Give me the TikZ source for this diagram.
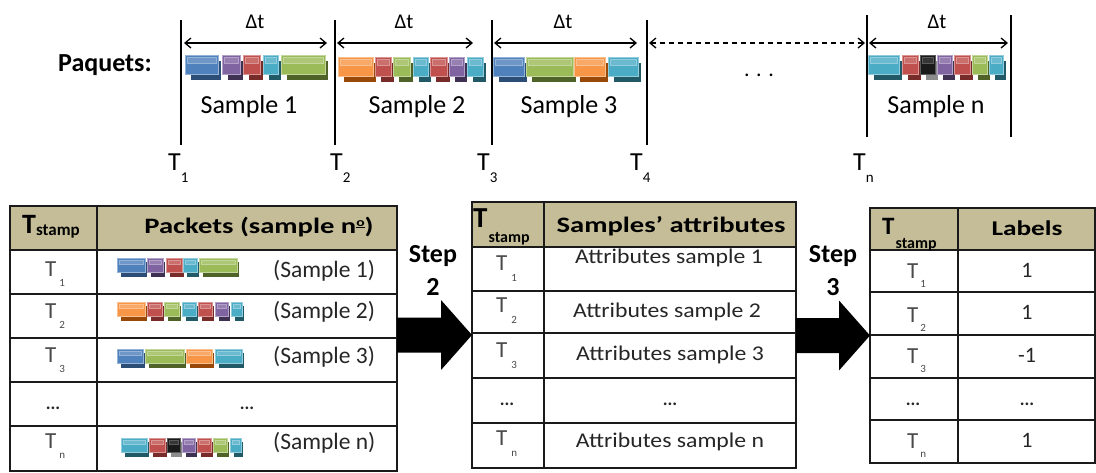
\documentclass[tikz,border=0pt]{standalone}
\usepackage{fontspec}
\setmainfont{Carlito}
\newfontfamily\hdfont[FakeStretch=1.3]{Carlito}
\newfontfamily\attrfont[FakeStretch=1.13]{Carlito}
\usetikzlibrary{arrows.meta,calc}

\definecolor{cblue}{HTML}{4F81BD}   \definecolor{cblueD}{HTML}{2C4D75}   \definecolor{cblueL}{HTML}{95B3D7}
\definecolor{cpurple}{HTML}{8064A2} \definecolor{cpurpleD}{HTML}{3F3151} \definecolor{cpurpleL}{HTML}{B3A2C7}
\definecolor{cred}{HTML}{C0504D}    \definecolor{credD}{HTML}{772C2A}    \definecolor{credL}{HTML}{D99694}
\definecolor{ccyan}{HTML}{4BACC6}   \definecolor{ccyanD}{HTML}{215967}   \definecolor{ccyanL}{HTML}{93CDDD}
\definecolor{cgreen}{HTML}{9BBB59}  \definecolor{cgreenD}{HTML}{4F6228}  \definecolor{cgreenL}{HTML}{C3D69B}
\definecolor{corange}{HTML}{F79646} \definecolor{corangeD}{HTML}{984807} \definecolor{corangeL}{HTML}{FAC090}
\definecolor{cblack}{HTML}{1A1A1A}  \definecolor{cblackD}{HTML}{8C8C8C}  \definecolor{cblackL}{HTML}{5A5A5A}
\definecolor{hdrtan}{HTML}{C4BD97}
\definecolor{lineK}{HTML}{1A1A1A}
\definecolor{txtK}{HTML}{262626}
\definecolor{txtG}{HTML}{4A4A4A}

\newcommand\fs[1]{\fontsize{#1}{#1}\selectfont}
% T with a lowered index: T size, index size, gap, drop, index
\newcommand\Tlab[5]{{\fs{#1}T}\hspace{#3}\raisebox{#4}{\fs{#2}#5}}
% masculine ordinal with its bar
\newcommand\ordo{\raisebox{7pt}{\fs{12}\underline{o}}}
% one packet block: left x, right x, top y, height, colour
\newcommand\pkt[5]{%
  \fill[#5D] ({#1+0.3*#4},{#3+0.3*#4}) rectangle ({#2+0.16*#4},{#3+1.34*#4});
  \filldraw[fill=#5, draw=#5L, line width=0.6pt] (#1,#3) rectangle (#2,{#3+#4});
  \filldraw[fill=#5L, draw=#5L, fill opacity=0.45, line width=0.4pt]
    ({#1+2.2},{#3+2.5}) rectangle ({#2-2.2},{#3+0.45*#4});
}

\begin{document}
\begin{tikzpicture}[x=1pt,y=-1pt,
  tick/.style={line width=1.3pt},
  dtarr/.style={line width=1.3pt,
    {Straight Barb[length=6pt,width=10pt]}-{Straight Barb[length=6pt,width=10pt]}},
  gridline/.style={line width=1.4pt, draw=lineK},
  tframe/.style={draw=lineK, line width=1.4pt, inner sep=0pt, outer sep=0pt, anchor=north west},
  txt/.style={inner sep=0pt, anchor=base},
  txtw/.style={inner sep=0pt, anchor=base west},
  bigarrow/.style={fill=black},
]
\useasboundingbox (0,0) rectangle (1096,472);

% ---------------- time line of packets ----------------
\node[txtw] (paq) at (58,71) {\fs{26}\bfseries Paquets:};

\foreach \n/\x/\ya/\yb in {t1/181/20/145, t2/335/20/145, t3/492/20/145, t4/647/20/145, tn/867/15/137, te/1011/15/137}{
  \coordinate (\n top) at (\x,\ya);
  \coordinate (\n bot) at (\x,\yb);
  \draw[tick] (\n top) -- (\n bot);
}

\coordinate (a1s) at (184,43);  \coordinate (a1e) at (327,43);
\coordinate (a2s) at (337,43);  \coordinate (a2e) at (473,43);
\coordinate (a3s) at (494,43);  \coordinate (a3e) at (637,43);
\coordinate (ads) at (649,43);  \coordinate (ade) at (865,43);
\coordinate (ans) at (869,43);  \coordinate (ane) at (1008,43);
\draw[dtarr] (a1s) -- (a1e);
\draw[dtarr] (a2s) -- (a2e);
\draw[dtarr] (a3s) -- (a3e);
\draw[dtarr, dashed, dash pattern=on 5pt off 4pt] (ads) -- (ade);
\draw[dtarr] (ans) -- (ane);

\node[txt] (dt1) at (255,28) {\fs{21}Δt};
\node[txt] (dt2) at (404,28) {\fs{21}Δt};
\node[txt] (dt3) at (563,28) {\fs{21}Δt};
\node[txt] (dtn) at (937,28) {\fs{21}Δt};

\node[txt] (smp1) at (249,113) {\fs{26}Sample 1};
\node[txt] (smp2) at (417,113) {\fs{26}Sample 2};
\node[txt] (smp3) at (569,113) {\fs{26}Sample 3};
\node[txt] (smpn) at (936,113) {\fs{26}Sample n};
\node[txt] (gap) at (759,76) {\fs{22}. . .};

\node[txtw] (lt1) at (168,170) {\Tlab{26}{15}{0pt}{-12pt}{1}};
\node[txtw] (lt2) at (330,170) {\Tlab{26}{15}{0pt}{-12pt}{2}};
\node[txtw] (lt3) at (477,170) {\Tlab{26}{15}{0pt}{-12pt}{3}};
\node[txtw] (lt4) at (630,170) {\Tlab{26}{15}{0pt}{-12pt}{4}};
\node[txtw] (ltn) at (853,170) {\Tlab{26}{15}{0pt}{-12pt}{n}};

% packets of each sample
\pkt{185}{218}{55}{19}{cblue}  \pkt{222}{240}{55}{19}{cpurple} \pkt{243}{260}{55}{19}{cred}
\pkt{263}{278}{55}{19}{ccyan}  \pkt{281}{325}{55}{19}{cgreen}

\pkt{338}{373}{57}{19}{corange} \pkt{375}{391}{57}{19}{cred} \pkt{393}{410}{57}{19}{cgreen}
\pkt{413}{428}{57}{19}{ccyan}   \pkt{430}{447}{57}{19}{cred} \pkt{449}{464}{57}{19}{cpurple}
\pkt{467}{483}{57}{19}{ccyan}

\pkt{493}{524}{57}{19}{cblue} \pkt{526}{573}{57}{19}{cgreen} \pkt{574}{605}{57}{19}{corange}
\pkt{608}{638}{57}{19}{ccyan}

\pkt{868}{899}{55}{19}{ccyan} \pkt{902}{918}{55}{19}{cred} \pkt{920}{935}{55}{19}{cblack}
\pkt{937}{952}{55}{19}{cpurple} \pkt{954}{970}{55}{19}{cred} \pkt{972}{987}{55}{19}{cgreen}
\pkt{989}{1003}{55}{19}{ccyan}

% ---------------- table of packets ----------------
\fill[hdrtan] (10,206) rectangle (397,250);
\node[tframe, minimum width=387pt, minimum height=265pt] (tabA) at (10,206) {};
\foreach \y in {250,294,338,382,426} \draw[gridline] (10,\y) -- (397,\y);
\draw[gridline] (97,206) -- (97,471);

\node[txtw] (hA1) at (22,233) {\fs{28}\bfseries T\raisebox{-2pt}{\fs{17}stamp}};
\node[txt] (hA2) at (259,233) {\hdfont\fs{22}\bfseries Packets (sample n\ordo)};

\node[txtw, text=txtG] (rA1) at (45,276) {\Tlab{23}{11}{3pt}{-10pt}{1}};
\node[txtw, text=txtG] (rA2) at (45,318) {\Tlab{23}{11}{3pt}{-10pt}{2}};
\node[txtw, text=txtG] (rA3) at (45,362) {\Tlab{23}{11}{3pt}{-10pt}{3}};
\node[txt, text=txtK] (rA4) at (53,409) {\fs{18}\bfseries ...};
\node[txtw, text=txtG] (rA5) at (45,448) {\Tlab{23}{11}{3pt}{-10pt}{n}};

\pkt{117}{145}{258}{14}{cblue} \pkt{147}{163}{258}{14}{cpurple} \pkt{166}{182}{258}{14}{cred}
\pkt{183}{197}{258}{14}{ccyan} \pkt{199}{237}{258}{14}{cgreen}

\pkt{117}{145}{302}{14}{corange} \pkt{147}{162}{302}{14}{cred} \pkt{164}{179}{302}{14}{cgreen}
\pkt{182}{196}{302}{14}{ccyan} \pkt{198}{212}{302}{14}{cred} \pkt{215}{228}{302}{14}{cpurple}
\pkt{231}{242}{302}{14}{ccyan}

\pkt{117}{143}{349}{14}{cblue} \pkt{145}{184}{349}{14}{cgreen} \pkt{186}{212}{349}{14}{corange}
\pkt{215}{242}{349}{14}{ccyan}

\pkt{121}{147}{438}{14}{ccyan} \pkt{149}{165}{438}{14}{cred} \pkt{167}{180}{438}{14}{cblack}
\pkt{182}{195}{438}{14}{cpurple} \pkt{197}{211}{438}{14}{cred} \pkt{213}{227}{438}{14}{cgreen}
\pkt{230}{241}{438}{14}{ccyan}

\node[txtw, text=txtK] (pA1) at (273,277) {\fs{23.5}(Sample 1)};
\node[txtw, text=txtK] (pA2) at (273,318) {\fs{23.5}(Sample 2)};
\node[txtw, text=txtK] (pA3) at (273,363) {\fs{23.5}(Sample 3)};
\node[txt, text=txtK] (pA4) at (247,409) {\fs{18}\bfseries ...};
\node[txtw, text=txtK] (pA5) at (273,449) {\fs{23.5}(Sample n)};

% ---------------- table of attributes ----------------
\fill[hdrtan] (472,202) rectangle (796,247);
\node[tframe, minimum width=324pt, minimum height=266pt] (tabB) at (472,202) {};
\foreach \y in {247,291,333,378,423} \draw[gridline] (472,\y) -- (796,\y);
\draw[gridline] (544,202) -- (544,468);

\node[txtw] (hB1) at (473,227) {\fs{29}\bfseries T\hspace{1pt}\raisebox{-15pt}{\fs{16}stamp}};
\node[txt] (hB2) at (671,232) {\hdfont\fs{22}\bfseries Samples’ attributes};

\node[txtw, text=txtG] (rB1) at (496,270) {\Tlab{23}{11}{4pt}{-11pt}{1}};
\node[txtw, text=txtG] (rB2) at (496,312) {\Tlab{23}{11}{4pt}{-11pt}{2}};
\node[txtw, text=txtG] (rB3) at (496,357) {\Tlab{23}{11}{4pt}{-11pt}{3}};
\node[txt, text=txtK] (rB4) at (507,405) {\fs{18}\bfseries ...};
\node[txtw, text=txtG] (rB5) at (496,445) {\Tlab{23}{11}{4pt}{-11pt}{n}};

\node[txt, text=txtK] (aB1) at (669,263) {\attrfont\fs{21}Attributes sample 1};
\node[txt, text=txtK] (aB2) at (667,317) {\attrfont\fs{21}Attributes sample 2};
\node[txt, text=txtK] (aB3) at (670,360) {\attrfont\fs{21}Attributes sample 3};
\node[txt, text=txtK] (aB4) at (670,405) {\fs{18}\bfseries ...};
\node[txt, text=txtK] (aB5) at (670,447) {\attrfont\fs{21}Attributes sample n};

% ---------------- table of labels ----------------
\fill[hdrtan] (870,208) rectangle (1095,250);
\node[tframe, minimum width=225pt, minimum height=255pt] (tabC) at (870,208) {};
\foreach \y in {250,292,335,378,420} \draw[gridline] (870,\y) -- (1095,\y);
\draw[gridline] (958,208) -- (958,463);

\node[txtw] (hC1) at (882,234) {\fs{25}\bfseries T\hspace{1pt}\raisebox{-14pt}{\fs{16}stamp}};
\node[txt] (hC2) at (1027,235) {\hdfont\fs{21}\bfseries Labels};

\node[txtw, text=txtG] (rC1) at (907,278) {\Tlab{23}{11}{2pt}{-9pt}{1}};
\node[txtw, text=txtG] (rC2) at (907,322) {\Tlab{23}{11}{2pt}{-9pt}{2}};
\node[txtw, text=txtG] (rC3) at (907,363) {\Tlab{23}{11}{2pt}{-9pt}{3}};
\node[txt, text=txtK] (rC4) at (913,405) {\fs{18}\bfseries ...};
\node[txtw, text=txtG] (rC5) at (907,448) {\Tlab{23}{11}{2pt}{-9pt}{n}};

\node[txt, text=txtK] (lC1) at (1027,277) {\fs{22}1};
\node[txt, text=txtK] (lC2) at (1027,319) {\fs{22}1};
\node[txt, text=txtK] (lC3) at (1027,362) {\fs{22}-1};
\node[txt, text=txtK] (lC4) at (1027,405) {\fs{18}\bfseries ...};
\node[txt, text=txtK] (lC5) at (1027,447) {\fs{22}1};

% ---------------- processing steps ----------------
\node[txt] (st2) at (433,262) {\fs{26}\bfseries Step};
\node[txt] (st2n) at (433,295) {\fs{26}\bfseries 2};
\node[txt] (st3) at (833,262) {\fs{26}\bfseries Step};
\node[txt] (st3n) at (833,295) {\fs{26}\bfseries 3};

\fill[bigarrow] ($(tabA.east |- tabB.west)+(0,-17.5)$) -- ($(tabB.west)+(-31,-17.5)$)
  -- ($(tabB.west)+(-31,-35)$) -- (tabB.west) -- ($(tabB.west)+(-31,35)$)
  -- ($(tabB.west)+(-31,17.5)$) -- ($(tabA.east |- tabB.west)+(0,17.5)$) -- cycle;
\fill[bigarrow] ($(tabB.east |- tabC.west)+(0,-17.5)$) -- ($(tabC.west)+(-31,-17.5)$)
  -- ($(tabC.west)+(-31,-35)$) -- (tabC.west) -- ($(tabC.west)+(-31,35)$)
  -- ($(tabC.west)+(-31,17.5)$) -- ($(tabB.east |- tabC.west)+(0,17.5)$) -- cycle;
\end{tikzpicture}
\end{document}
